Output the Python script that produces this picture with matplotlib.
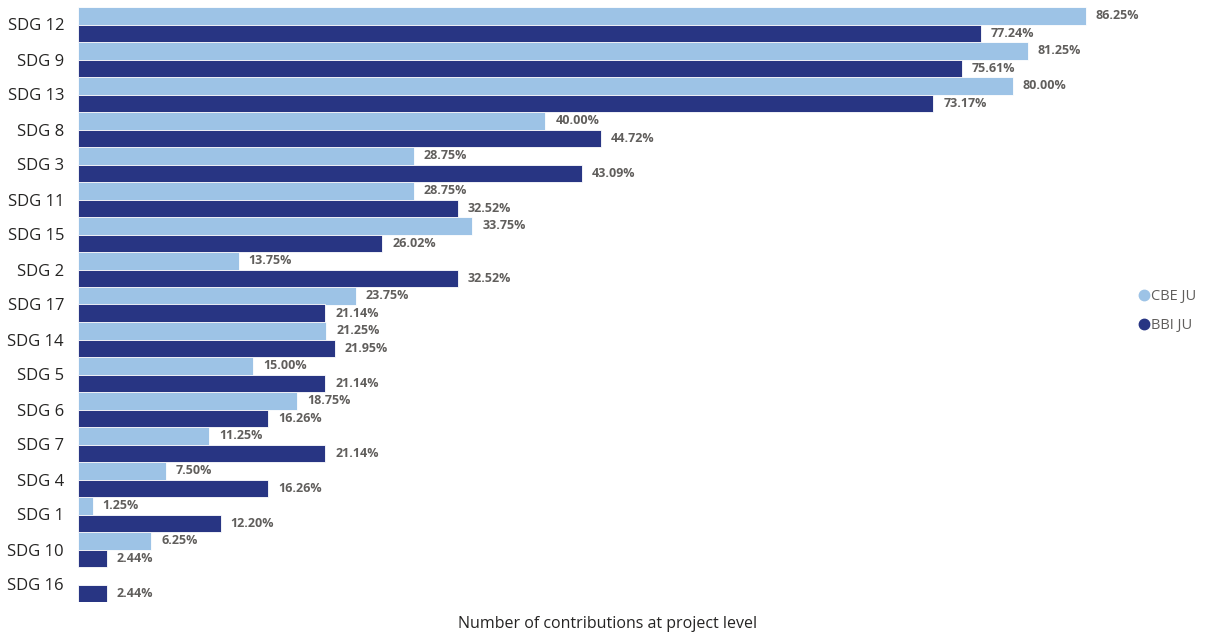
import matplotlib
matplotlib.use("Agg")
import matplotlib.pyplot as plt
import numpy as np
from matplotlib.lines import Line2D

categories = ["SDG 12", "SDG 9", "SDG 13", "SDG 8", "SDG 3", "SDG 11", "SDG 15",
              "SDG 2", "SDG 17", "SDG 14", "SDG 5", "SDG 6", "SDG 7", "SDG 4",
              "SDG 1", "SDG 10", "SDG 16"]
cbe_ju = [86.25, 81.25, 80.00, 40.00, 28.75, 28.75, 33.75, 13.75, 23.75, 21.25,
          15.00, 18.75, 11.25, 7.50, 1.25, 6.25, None]
bbi_ju = [77.24, 75.61, 73.17, 44.72, 43.09, 32.52, 26.02, 32.52, 21.14, 21.95,
          21.14, 16.26, 21.14, 16.26, 12.20, 2.44, 2.44]
series_names = ["CBE JU", "BBI JU"]

c_light = "#9DC3E6"
c_dark = "#283583"
lbl_col = "#605E5C"

plt.rcParams['font.family'] = ['Open Sans', 'DejaVu Sans']

fig = plt.figure(figsize=(12.1, 6.35), dpi=100)
W, H = 1210, 635
ax = fig.add_axes([78 / W, 1 - 602 / H, (1100 - 78) / W, (602 - 7) / H])

y = np.arange(len(categories))
h = 0.49
cbe_vals = [v if v is not None else 0 for v in cbe_ju]
ax.barh(y - h / 2, cbe_vals, height=h, color=c_light, edgecolor="white", linewidth=0.6)
ax.barh(y + h / 2, bbi_ju, height=h, color=c_dark, edgecolor="white", linewidth=0.6)

xmax = (1100 - 78) / ((1086 - 78) / 86.25)
ax.set_xlim(0, xmax)
ax.set_ylim(len(categories) - 0.5, -0.5)

off = 10 / ((1086 - 78) / 86.25)
for i, (a, b) in enumerate(zip(cbe_ju, bbi_ju)):
    if a is not None:
        ax.text(a + off, i - h / 2, f"{a:.2f}%", va="center", ha="left",
                fontsize=9, fontweight="bold", color=lbl_col)
    if b is not None:
        ax.text(b + off, i + h / 2, f"{b:.2f}%", va="center", ha="left",
                fontsize=9, fontweight="bold", color=lbl_col)

ax.set_yticks(y)
ax.set_yticklabels(categories, fontsize=12, color="#252423")
ax.tick_params(axis="y", length=0, pad=10)
ax.set_xticks([])
for s in ax.spines.values():
    s.set_visible(False)

fig.text(608 / W, 1 - 624 / H, "Number of contributions at project level",
         ha="center", va="center", fontsize=11.5, color="#252423")

handles = [Line2D([0], [0], marker="o", linestyle="none", markersize=7.5,
                  markerfacecolor=c, markeredgecolor=c) for c in (c_light, c_dark)]
fig.legend(handles, series_names, loc="center left",
           bbox_to_anchor=(1138 / W, 1 - 311 / H), frameon=False,
           fontsize=10.5, labelcolor=lbl_col, handletextpad=0.1,
           labelspacing=1.0, handlelength=0.8, borderpad=0, borderaxespad=0)

fig.savefig("out.png", dpi=100)
